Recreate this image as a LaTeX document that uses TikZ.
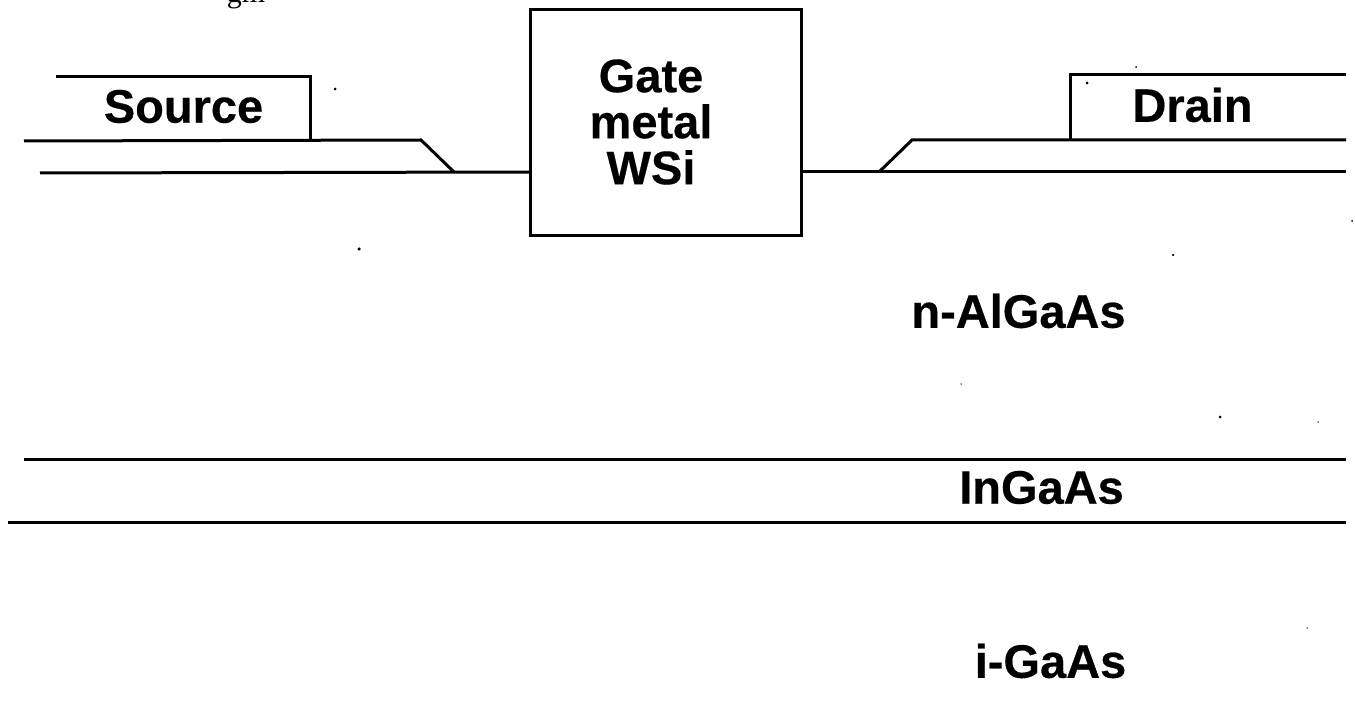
\documentclass[tikz,border=0pt]{standalone}
\usepackage{fontspec}
\setmainfont[BoldFeatures={FakeBold=0.4}]{Liberation Sans}
\newfontfamily\serifcut{Liberation Serif}
\tikzset{
  layer/.style={line width=3pt,black,line join=miter},
  lbl/.style={font=\fontsize{47}{46}\selectfont\bfseries,text=black,inner sep=0pt,align=center},
  speck/.style={circle,fill=black,inner sep=0pt,minimum size=#1}
}
\begin{document}
\begin{tikzpicture}[x=1pt,y=-1pt]
\useasboundingbox (0,0) rectangle (1355,727);
\fill[white] (0,0) rectangle (1355,727);
\begin{scope}
\clip (0,0) rectangle (1355,727);
\node[font=\serifcut\fontsize{30}{30}\selectfont,inner sep=0pt,anchor=base] (cut) at (246,3) {gm};
\end{scope}
\coordinate (s1) at (56,77);
\coordinate (s2) at (310,77);
\coordinate (s3) at (310,140);
\draw[layer] (s1) -- (s2) -- (s3);
\draw[layer] (24,141) -- (421,140) -- (454,172);
\draw[layer] (40,173) -- (530,172);
\node[draw,line width=3pt,minimum width=271pt,minimum height=226pt,inner sep=0pt,outer sep=0pt] (gate) at (666,122.5) {};
\node[lbl] (gatetxt) at (651,122) {Gate\\metal\\WSi};
\coordinate (d1) at (1346,75);
\coordinate (d2) at (1070,75);
\coordinate (d3) at (1070,140);
\draw[layer] (d1) -- (d2) -- (d3);
\draw[layer] (802,172) -- (1346,172);
\draw[layer] (879,172) -- (912,140) -- (1346,140);
\draw[layer] (24,459) -- (1346,459);
\draw[layer] (8,522) -- (1346,522);
\node[lbl] (source) at (183.5,106.5) {Source};
\node[lbl] (drain) at (1192.5,105) {Drain};
\node[lbl] (algaas) at (1018.5,311) {n-AlGaAs};
\node[lbl] (ingaas) at (1041.5,487.5) {InGaAs};
\node[lbl] (gaas) at (1050.5,661) {i-GaAs};
\node[speck=3pt] (p1) at (335,89) {};
\node[speck=3.5pt] (p2) at (359,249) {};
\node[speck=2.5pt] (p3) at (1173,255) {};
\node[speck=2pt] (p4) at (1352,221) {};
\node[speck=3pt] (p5) at (1220,417) {};
\node[speck=1.5pt] (p6) at (1318,422) {};
\node[speck=1.5pt] (p7) at (961,384) {};
\node[speck=1.5pt] (p8) at (1307,628) {};
\node[speck=3pt] (p9) at (1087,83) {};
\node[speck=2pt] (p10) at (1136,67) {};
\end{tikzpicture}
\end{document}
